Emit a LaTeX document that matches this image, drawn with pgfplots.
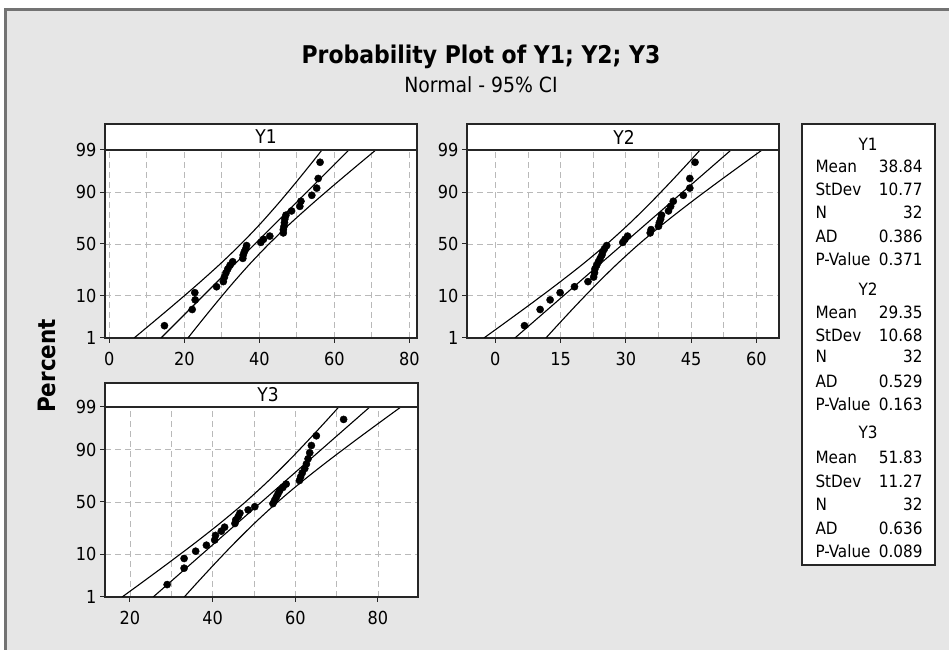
\documentclass[border=0pt]{standalone}
\usepackage{fontspec}
\setmainfont{DejaVu Sans Condensed}
\usepackage{pgfplots}
\pgfplotsset{compat=1.18}
\definecolor{bgc}{RGB}{230,230,230}
\definecolor{brd}{RGB}{115,115,115}
\pgfplotsset{
  pp/.style={
    scale only axis,
    axis background/.style={fill=white},
    ymin=-2.3263, ymax=2.3263,
    ytick={-2.3263,-1.2816,0,1.2816,2.3263},
    yticklabels={1,10,50,90,99},
    tick align=outside,
    xtick pos=left, ytick pos=left,
    major tick length=5bp, minor tick length=0pt,
    grid=both,
    major grid style={gray!55, dash pattern=on 6bp off 4bp, line width=0.8bp},
    minor grid style={gray!55, dash pattern=on 6bp off 4bp, line width=0.8bp},
    axis line style={line width=1.3bp, black!85},
    tick style={black!85, line width=1bp},
    tick label style={font=\fontsize{18}{20}\selectfont},
    xticklabel style={yshift=-6bp},
    /pgf/number format/assume math mode=true,
  },
  band/.style={black, line width=1.1bp, smooth, no marks},
  fit/.style={black, line width=1.1bp, no marks},
  pts/.style={only marks, mark=*, mark size=3.6bp, black},
}
\begin{document}
\begin{tikzpicture}[x=1bp,y=1bp]
\useasboundingbox (0,0) rectangle (949,650);
\fill[white] (0,0) rectangle (949,650);
\fill[bgc] (5,0) rectangle (949,640);
\draw[brd, line width=3bp] (5,-5) -- (5,640) -- (955,640);

% titles
\node[anchor=base, font=\bfseries\fontsize{24.5}{26}\selectfont] at (481,586) {Probability Plot of Y1; Y2; Y3};
\node[anchor=base, font=\fontsize{21}{23}\selectfont] at (481,557) {Normal - 95\% CI};
\node[rotate=90, font=\bfseries\fontsize{24}{26}\selectfont] at (47,284) {Percent};

% ---------- Y1 ----------
\begin{axis}[pp, at={(105bp,312bp)}, anchor=south west, width=312bp, height=188bp,
  xmin=-1.15, xmax=82.05, xtick={0,20,40,60,80}, minor xtick={10,30,50,70}]
\addplot[band] coordinates {(6.61,-2.3263) (10.84,-2) (17.25,-1.5) (23.50,-1) (29.50,-0.5) (35.11,0) (40.27,0.5) (45.04,1) (49.56,1.5) (53.92,2) (56.71,2.3263)};
\addplot[band] coordinates {(20.97,-2.3263) (23.76,-2) (28.13,-1.5) (32.64,-1) (37.41,-0.5) (42.57,0) (48.18,0.5) (54.18,1) (60.44,1.5) (66.84,2) (71.07,2.3263)};
\addplot[fit] coordinates {(13.79,-2.3263) (63.89,2.3263)};
\addplot[pts] coordinates {
(14.7,-2.022) (22.1,-1.621) (22.9,-1.383) (22.8,-1.205) (28.6,-1.058) (30.4,-0.931) (30.7,-0.818) (31.1,-0.714)
(31.6,-0.617) (32.2,-0.526) (32.9,-0.439) (35.6,-0.356) (35.7,-0.274) (36.0,-0.195) (36.4,-0.116) (36.6,-0.039)
(40.4,0.039) (41.1,0.116) (42.8,0.195) (46.4,0.274) (46.4,0.356) (46.6,0.439) (46.7,0.526) (46.8,0.617)
(47.1,0.714) (48.6,0.818) (50.8,0.931) (51.1,1.058) (54.0,1.205) (55.3,1.383) (55.7,1.621) (56.2,2.022)};
\end{axis}

% ---------- Y2 ----------
\begin{axis}[pp, at={(467bp,312bp)}, anchor=south west, width=312bp, height=188bp,
  xmin=-6.5, xmax=65.2, xtick={0,15,30,45,60}, minor xtick={7.5,22.5,37.5,52.5}]
\addplot[band] coordinates {(-2.61,-2.3263) (1.58,-2) (7.94,-1.5) (14.14,-1) (20.09,-0.5) (25.65,0) (30.77,0.5) (35.50,1) (39.98,1.5) (44.30,2) (47.07,2.3263)};
\addplot[band] coordinates {(11.63,-2.3263) (14.40,-2) (18.72,-1.5) (23.20,-1) (27.94,-0.5) (33.05,0) (38.62,0.5) (44.56,1) (50.76,1.5) (57.12,2) (61.31,2.3263)};
\addplot[fit] coordinates {(4.51,-2.3263) (54.19,2.3263)};
\addplot[pts] coordinates {
(6.7,-2.022) (10.3,-1.621) (12.6,-1.383) (14.9,-1.205) (18.2,-1.058) (21.3,-0.931) (22.6,-0.818) (22.8,-0.714)
(22.9,-0.617) (23.3,-0.526) (23.7,-0.439) (24.1,-0.356) (24.5,-0.274) (24.7,-0.195) (25.1,-0.116) (25.6,-0.039)
(29.3,0.039) (29.8,0.116) (30.4,0.195) (35.6,0.274) (35.8,0.356) (37.5,0.439) (37.7,0.526) (38.0,0.617)
(38.2,0.714) (39.8,0.818) (40.3,0.931) (40.9,1.058) (43.2,1.205) (44.7,1.383) (44.7,1.621) (45.9,2.022)};
\end{axis}

% ---------- Y3 ----------
\begin{axis}[pp, at={(105bp,53bp)}, anchor=south west, width=313bp, height=190bp,
  xmin=13.96, xmax=89.7, xtick={20,40,60,80}, minor xtick={30,50,70}]
\addplot[band] coordinates {(18.10,-2.3263) (22.53,-2) (29.23,-1.5) (35.78,-1) (42.05,-0.5) (47.93,0) (53.32,0.5) (58.32,1) (63.04,1.5) (67.61,2) (70.53,2.3263)};
\addplot[band] coordinates {(33.14,-2.3263) (36.05,-2) (40.62,-1.5) (45.34,-1) (50.34,-0.5) (55.74,0) (61.61,0.5) (67.88,1) (74.43,1.5) (81.13,2) (85.56,2.3263)};
\addplot[fit] coordinates {(25.62,-2.3263) (78.04,2.3263)};
\addplot[pts] coordinates {
(29.0,-2.022) (33.1,-1.621) (33.1,-1.383) (35.9,-1.205) (38.5,-1.058) (40.5,-0.931) (40.7,-0.818) (42.1,-0.714)
(42.9,-0.617) (45.4,-0.526) (45.6,-0.439) (46.2,-0.356) (46.6,-0.274) (48.6,-0.195) (50.2,-0.116) (54.6,-0.039)
(55.0,0.039) (55.4,0.116) (55.8,0.195) (56.2,0.274) (57.0,0.356) (57.8,0.439) (61.0,0.526) (61.3,0.617)
(61.7,0.714) (62.3,0.818) (62.7,0.931) (63.1,1.058) (63.5,1.205) (63.9,1.383) (65.1,1.621) (71.7,2.022)};
\end{axis}

% headers
\draw[fill=white, draw=black!85, line width=1.3bp] (105,500) rectangle (417,526);
\node[font=\fontsize{19}{21}\selectfont] at (266,513) {Y1};
\draw[fill=white, draw=black!85, line width=1.3bp] (467,500) rectangle (779,526);
\node[font=\fontsize{19}{21}\selectfont] at (624,513) {Y2};
\draw[fill=white, draw=black!85, line width=1.3bp] (105,243) rectangle (418,267);
\node[font=\fontsize{19}{21}\selectfont] at (268,255) {Y3};

% stats box
\draw[fill=white, draw=black!85, line width=1.3bp] (802,85) rectangle (935,526);
\begin{scope}[font=\fontsize{17}{19}\selectfont]
\node[anchor=base] at (868,499) {Y1};
\node[anchor=base west] at (812,477) {Mean};   \node[anchor=base east] at (926,477) {38.84};
\node[anchor=base west] at (812,454) {StDev};  \node[anchor=base east] at (926,454) {10.77};
\node[anchor=base west] at (812,431) {N};      \node[anchor=base east] at (926,431) {32};
\node[anchor=base west] at (812,407) {AD};     \node[anchor=base east] at (926,407) {0.386};
\node[anchor=base west] at (812,384) {P-Value};\node[anchor=base east] at (926,384) {0.371};
\node[anchor=base] at (868,354) {Y2};
\node[anchor=base west] at (812,331) {Mean};   \node[anchor=base east] at (926,331) {29.35};
\node[anchor=base west] at (812,308) {StDev};  \node[anchor=base east] at (926,308) {10.68};
\node[anchor=base west] at (812,287) {N};      \node[anchor=base east] at (926,287) {32};
\node[anchor=base west] at (812,262) {AD};     \node[anchor=base east] at (926,262) {0.529};
\node[anchor=base west] at (812,239) {P-Value};\node[anchor=base east] at (926,239) {0.163};
\node[anchor=base] at (868,211) {Y3};
\node[anchor=base west] at (812,186) {Mean};   \node[anchor=base east] at (926,186) {51.83};
\node[anchor=base west] at (812,162) {StDev};  \node[anchor=base east] at (926,162) {11.27};
\node[anchor=base west] at (812,139) {N};      \node[anchor=base east] at (926,139) {32};
\node[anchor=base west] at (812,115) {AD};     \node[anchor=base east] at (926,115) {0.636};
\node[anchor=base west] at (812,92) {P-Value}; \node[anchor=base east] at (926,92) {0.089};
\end{scope}
\end{tikzpicture}
\end{document}
